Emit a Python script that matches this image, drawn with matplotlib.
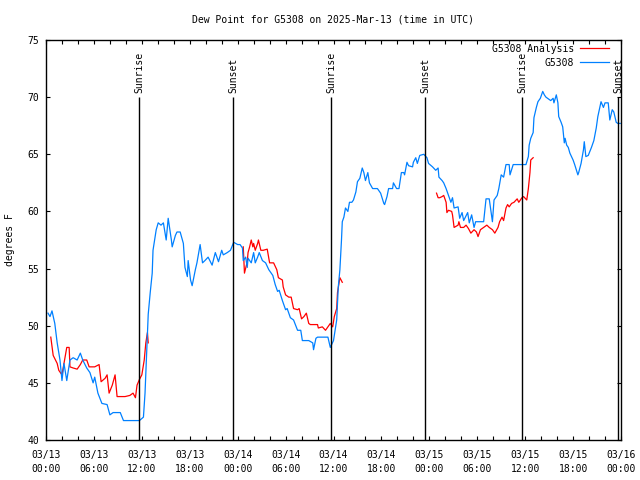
import numpy as np
import matplotlib
matplotlib.use("Agg")
import matplotlib.pyplot as plt
import matplotlib.dates as mdates

start = np.datetime64("2025-03-13T00:00")

# hours since 03/13 00:00 UTC, dew point in F
obs_hours = [0.25, 0.5, 0.75, 1.1, 1.4, 1.75, 2.0, 2.25, 2.6, 3.0, 3.4, 3.9, 4.3, 4.6, 5.1, 5.5, 5.9, 6.1,
             6.5, 7.0, 7.65, 8.0, 8.4, 9.3, 9.7, 11.7, 12.2, 12.4, 12.8, 13.05, 13.3, 13.4, 13.8, 14.05,
             14.4, 14.7, 15.05, 15.3, 15.7, 15.8, 16.2, 16.4, 16.8, 17.2, 17.4, 17.7, 17.8, 18.1, 18.3,
             18.7, 18.9, 19.3, 19.6, 19.9, 20.3, 20.8, 21.2, 21.6, 22.0, 22.2, 22.7, 23.1, 23.5, 24.0,
             24.3, 24.6, 24.7, 25.0, 25.2, 25.3, 25.7, 26.0, 26.2, 26.5, 26.7, 27.1, 27.5, 27.9, 28.4,
             28.7, 29.0, 29.2, 29.6, 30.0, 30.2, 30.6, 31.0, 31.5, 31.9, 32.1, 32.9, 33.4, 33.5, 33.8,
             34.0, 35.3, 35.6, 36.0, 36.4, 36.6, 36.8, 37.0, 37.1, 37.3, 37.5, 37.8, 38.0, 38.3, 38.5,
             38.8, 39.0, 39.3, 39.6, 39.8, 40.0, 40.3, 40.5, 40.9, 41.5, 41.9, 42.3, 42.4, 42.7, 42.9,
             43.4, 43.5, 43.9, 44.2, 44.5, 44.8, 44.9, 45.2, 45.4, 45.9, 46.0, 46.3, 46.5, 46.8, 47.3,
             47.7, 47.9, 48.4, 48.8, 49.1, 49.2, 49.6, 49.8, 50.1, 50.4, 50.7, 50.9, 51.1, 51.6, 51.8,
             52.1, 52.3, 52.8, 53.0, 53.3, 53.6, 53.8, 54.8, 55.1, 55.5, 55.7, 55.9, 56.1, 56.5, 56.7,
             57.0, 57.3, 57.6, 58.0, 58.1, 58.5, 60.1, 60.4, 60.5, 60.7, 61.0, 61.1, 61.4, 61.6, 61.9,
             62.2, 62.4, 62.6, 63.0, 63.2, 63.5, 63.6, 63.9, 64.1, 64.2, 64.5, 64.7, 64.9, 65.0, 65.2,
             65.4, 65.6, 66.0, 66.2, 66.6, 66.7, 67.0, 67.3, 67.4, 67.6, 67.9, 68.3, 68.6, 68.9, 69.1,
             69.5, 69.8, 70.0, 70.4, 70.6, 70.9, 71.1, 71.4, 71.6, 71.9]
obs_dewp = [51.1, 50.8, 51.3, 50.2, 48.5, 47.0, 45.2, 46.7, 45.2, 47.0, 47.2, 47.0, 47.6, 47.0, 46.3, 45.9, 45.0, 45.5,
            44.1, 43.2, 43.1, 42.2, 42.4, 42.4, 41.7, 41.7, 42.0, 44.1, 51.0, 52.9, 54.6, 56.6, 58.4, 59.0,
            58.8, 59.0, 57.5, 59.4, 57.5, 56.9, 57.9, 58.2, 58.2, 57.2, 55.1, 54.3, 55.7, 54.0, 53.5,
            54.9, 55.5, 57.1, 55.5, 55.7, 56.0, 55.3, 56.4, 55.6, 56.6, 56.2, 56.4, 56.6, 57.3, 57.1,
            57.1, 56.8, 55.7, 56.0, 55.1, 55.9, 55.5, 56.4, 55.5, 56.0, 56.4, 55.7, 55.5, 54.9, 54.4,
            53.6, 53.0, 53.1, 52.2, 51.4, 51.5, 50.7, 50.5, 49.6, 49.6, 48.7, 48.7, 48.5, 47.9, 48.9,
            49.0, 49.0, 48.1, 48.7, 50.5, 53.4, 54.9, 57.5, 59.1, 59.5, 60.3, 60.0, 60.8, 60.8, 61.0,
            61.7, 62.6, 62.9, 63.8, 63.4, 62.7, 63.4, 62.5, 62.0, 62.0, 61.6, 60.7, 60.6, 61.3, 62.0,
            62.0, 62.5, 62.0, 62.0, 63.4, 63.4, 63.2, 64.3, 64.0, 63.9, 64.3, 64.7, 64.2, 64.9, 65.0,
            64.7, 64.2, 63.9, 63.6, 63.8, 63.0, 62.7, 62.5, 62.0, 61.4, 60.8, 61.2, 60.3, 60.4, 59.4,
            59.9, 59.2, 59.9, 59.0, 59.7, 58.6, 59.1, 59.1, 61.1, 61.1, 60.1, 59.1, 61.0, 61.4, 62.0,
            63.2, 63.0, 64.1, 64.1, 63.2, 64.1, 64.1, 64.8, 65.8, 66.4, 66.9, 68.2, 69.1, 69.6, 69.9,
            70.5, 70.2, 70.0, 69.8, 69.7, 69.9, 69.5, 70.2, 69.5, 68.3, 67.8, 67.4, 66.0, 66.4, 65.8,
            65.6, 65.1, 64.5, 64.1, 63.2, 63.4, 64.2, 65.4, 66.1, 64.8, 64.9, 65.6, 66.2, 67.3, 68.3,
            69.6, 69.1, 69.5, 69.5, 68.0, 68.9, 68.7, 67.8, 67.7, 67.7]

# analysis, gaps as nan
ana_hours = [0.6, 0.9, 1.4, 1.6, 2.0, 2.1, 2.25, 2.6, 2.9, 3.0, 3.4, 3.9, 4.3, 4.6, 5.1, 5.4, 6.1, 6.65,
             6.9, 7.4, 7.65, 7.9, 8.3, 8.65, 8.9, 9.9, 10.5, 10.9, 11.2, 11.4, 11.7, 12.0, 12.3, 12.5,
             12.7, 12.8, 18.0,
             24.7, 24.85, 25.2, 25.3, 25.5, 25.7, 25.9, 26.0, 26.2, 26.5, 26.6, 26.9, 27.2, 27.7, 28.0,
             28.5, 28.9, 29.1, 29.6, 29.7, 30.0, 30.4, 30.7, 31.0, 31.5, 31.7, 32.0, 32.3, 32.6, 32.9,
             33.1, 34.0, 34.1, 34.6, 35.0, 35.6, 35.9, 36.1, 36.4, 36.5, 36.8, 37.1, 42.0,
             48.9, 49.1, 49.3, 49.6, 49.8, 50.1, 50.2, 50.4, 50.8, 50.9, 51.1, 51.6, 51.7, 51.9, 52.3,
             52.6, 52.9, 53.2, 53.6, 53.9, 54.1, 54.4, 54.8, 55.2, 55.5, 55.9, 56.2, 56.6, 56.8, 57.1,
             57.3, 57.6, 57.8, 58.0, 58.3, 58.6, 59.0, 59.2, 59.6, 59.8, 60.2, 60.4, 60.6, 60.7, 61.0]
ana_dewp = [49.0, 47.4, 46.7, 46.1, 45.7, 46.1, 46.7, 48.1, 48.1, 46.4, 46.3, 46.2, 46.6, 47.0, 47.0, 46.4, 46.4, 46.6,
            45.1, 45.4, 45.7, 44.1, 44.8, 45.7, 43.8, 43.8, 43.9, 44.1, 43.7, 44.8, 45.3, 45.7, 47.0, 48.5,
            49.4, 48.5, np.nan,
            56.9, 54.6, 55.6, 56.4, 56.9, 57.5, 56.9, 57.2, 56.6, 57.2, 57.5, 56.6, 56.6, 56.7, 55.5,
            55.5, 54.9, 54.2, 54.0, 53.4, 52.7, 52.5, 52.5, 51.5, 51.4, 51.5, 50.6, 50.8, 51.1, 50.2,
            50.1, 50.1, 49.8, 49.9, 49.6, 50.2, 49.9, 50.8, 51.5, 52.9, 54.2, 53.8, np.nan,
            61.6, 61.2, 61.2, 61.3, 61.4, 60.8, 59.9, 60.1, 60.0, 59.7, 58.6, 58.8, 59.1, 58.6, 58.6,
            58.8, 58.5, 58.1, 58.4, 58.2, 57.8, 58.4, 58.6, 58.8, 58.6, 58.4, 58.1, 58.6, 59.1, 59.5,
            59.2, 60.3, 60.6, 60.4, 60.7, 60.8, 61.1, 60.8, 61.2, 61.3, 61.0, 62.0, 63.4, 64.5, 64.7]

sun_hours = [11.68, 23.45, 35.72, 47.5, 59.64, 71.66]
sun_labels = ["Sunrise", "Sunset", "Sunrise", "Sunset", "Sunrise", "Sunset"]


def to_time(hours):
    return start + (np.array(hours) * 3600).astype("timedelta64[s]")


plt.rcParams["font.family"] = "DejaVu Sans Mono"
plt.rcParams["font.size"] = 7

fig = plt.figure(figsize=(6.4, 4.8), dpi=100)
ax = fig.add_axes([46 / 640, 40 / 480, 575 / 640, 400 / 480])

ax.plot(to_time(ana_hours), ana_dewp, color="#ff0000", lw=0.9, label="G5308 Analysis")
ax.plot(to_time(obs_hours), obs_dewp, color="#0080ff", lw=0.9, label="G5308")

for h, lab in zip(sun_hours, sun_labels):
    t = to_time([h])[0]
    ax.vlines(t, 40, 70, color="black", lw=1.0)
    ax.text(t, 70.4, lab, rotation=90, ha="center", va="bottom", fontsize=7)

ax.set_xlim(to_time([0])[0], to_time([72])[0])
ax.set_ylim(40, 75)
ax.set_yticks(range(40, 80, 5))
ax.xaxis.set_major_locator(mdates.HourLocator(byhour=range(0, 24, 6)))
ax.xaxis.set_minor_locator(mdates.HourLocator(interval=2))
ax.xaxis.set_major_formatter(mdates.DateFormatter("%m/%d\n%H:%M"))
for lbl in ax.get_xticklabels():
    lbl.set_linespacing(1.5)
ax.tick_params(which="both", direction="in", top=True, right=True, length=3, width=0.8)
ax.tick_params(axis="x", pad=7)
ax.tick_params(axis="y", pad=5)
for s in ax.spines.values():
    s.set_linewidth(1.0)

ax.legend(loc="upper right", bbox_to_anchor=(1 - 5 / 575, 1 + 3 / 400), frameon=False,
          markerfirst=False, handlelength=3.0, handletextpad=0.6, labelspacing=0.4,
          borderaxespad=0.3, fontsize=7)

fig.text(333 / 640, 1 - 19 / 480, "Dew Point for G5308 on 2025-Mar-13 (time in UTC)",
         ha="center", va="center", fontsize=7)
fig.text(10 / 640, 0.5, "degrees F", rotation=90, ha="center", va="center", fontsize=7)

fig.savefig("out.png", dpi=100)
